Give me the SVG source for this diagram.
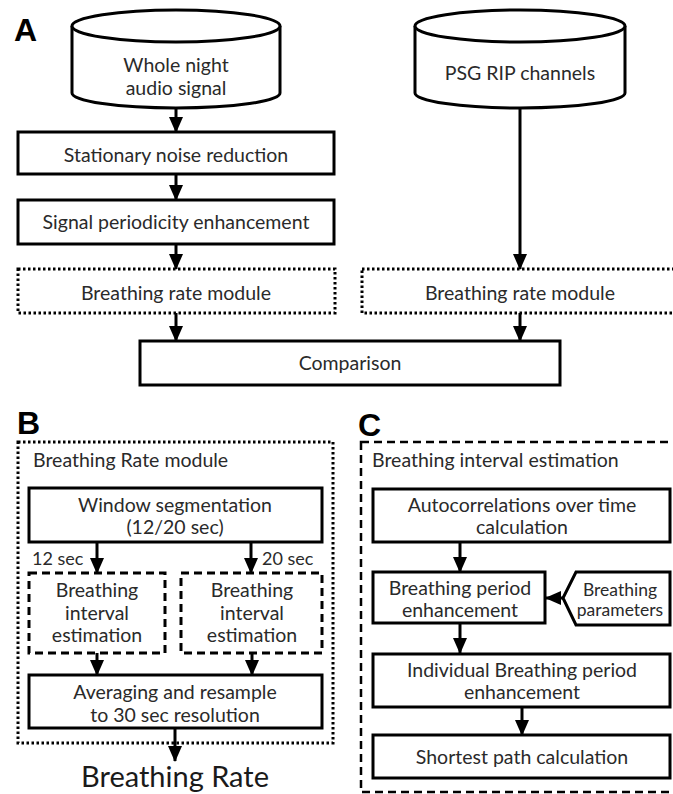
<svg xmlns="http://www.w3.org/2000/svg" width="673" height="794" viewBox="0 0 673 794">
<defs>
<style>
.t{font-family:Lato,"Liberation Sans",sans-serif;font-size:19.5px;fill:#2a2a2a;text-anchor:middle}
.ts{font-family:Lato,"Liberation Sans",sans-serif;font-size:17.5px;fill:#2a2a2a;text-anchor:middle}
.tl{font-family:Lato,"Liberation Sans",sans-serif;font-size:19.5px;fill:#2a2a2a;text-anchor:start}
.tsec{font-family:Lato,"Liberation Sans",sans-serif;font-size:18px;fill:#2a2a2a;text-anchor:start}
.big{font-family:Lato,"Liberation Sans",sans-serif;font-size:29px;fill:#1a1a1a;text-anchor:middle}
.lab{font-family:"Liberation Sans",Arial,sans-serif;font-size:32px;font-weight:bold;fill:#000}
.box{fill:#fff;stroke:#000;stroke-width:3}
.dot{fill:none;stroke:#000;stroke-width:3;stroke-dasharray:2.5 2.5}
.dash{fill:#fff;stroke:#000;stroke-width:3;stroke-dasharray:8 5}
.dashc{fill:none;stroke:#000;stroke-width:2.5;stroke-dasharray:8 5}
.ln{fill:none;stroke:#000;stroke-width:3;marker-end:url(#ah)}
</style>
<marker id="ah" markerUnits="userSpaceOnUse" markerWidth="16" markerHeight="14" viewBox="0 0 16 14" refX="15" refY="7" orient="auto">
<path d="M0,0 L16,7 L0,14 Z" fill="#000"/>
</marker>
</defs>
<rect width="673" height="794" fill="#fff"/>

<text class="lab" x="14" y="41">A</text>
<text class="lab" x="17" y="434">B</text>
<text class="lab" x="358" y="436">C</text>

<g id="connectors">
<path class="ln" d="M176,108 V132"/>
<path class="ln" d="M176,174 V200"/>
<path class="ln" d="M176,244 V269"/>
<path class="ln" d="M520,108 V269"/>
<path class="ln" d="M176,313 V341"/>
<path class="ln" d="M520,313 V341"/>
<path class="ln" d="M97,542 V573"/>
<path class="ln" d="M251,542 V573"/>
<path class="ln" d="M97,653 V675"/>
<path class="ln" d="M252,653 V675"/>
<path class="ln" d="M175,728 V761"/>
<path class="ln" d="M460,542 V572"/>
<path class="ln" d="M460,623 V653"/>
<path class="ln" d="M522,707 V735"/>
<path class="ln" d="M563,598 H546"/>
</g>

<g id="audio">
<path class="box" d="M72,26 V93 A104,15 0 0 0 280,93 V26"/>
<ellipse class="box" cx="176" cy="26" rx="104" ry="16"/>
<text class="t" x="176" y="72">Whole night</text>
<text class="t" x="176" y="95">audio signal</text>
</g>
<g id="psg">
<path class="box" d="M415,26 V93 A105,15 0 0 0 625,93 V26"/>
<ellipse class="box" cx="520" cy="26" rx="105" ry="16"/>
<text class="t" x="520" y="80">PSG RIP channels</text>
</g>
<g id="noise">
<rect class="box" x="18" y="132" width="316" height="42"/>
<text class="t" x="176" y="162">Stationary noise reduction</text>
</g>
<g id="periodicity">
<rect class="box" x="18" y="200" width="316" height="44"/>
<text class="t" x="176" y="229">Signal periodicity enhancement</text>
</g>
<g id="brm-left">
<rect class="dot" x="18" y="269" width="317" height="44"/>
<text class="t" x="176" y="300">Breathing rate module</text>
</g>
<g id="brm-right">
<rect class="dot" x="362" y="269" width="318" height="44"/>
<text class="t" x="520" y="300">Breathing rate module</text>
</g>
<g id="comparison">
<rect class="box" x="140" y="341" width="420" height="44"/>
<text class="t" x="350" y="370">Comparison</text>
</g>

<g id="module-b">
<rect class="dot" x="18" y="442" width="315" height="301"/>
<text class="tl" x="33" y="467">Breathing Rate module</text>
</g>
<g id="window">
<rect class="box" x="29" y="488" width="293" height="54"/>
<text class="t" x="175" y="512">Window segmentation</text>
<text class="t" x="175" y="534">(12/20 sec)</text>
</g>
<text class="tsec" x="32" y="565">12 sec</text>
<text class="tsec" x="262" y="565">20 sec</text>
<g id="bie-left">
<rect class="dash" x="29" y="573" width="136" height="80"/>
<text class="t" x="97" y="597">Breathing</text>
<text class="t" x="97" y="620">interval</text>
<text class="t" x="97" y="642">estimation</text>
</g>
<g id="bie-right">
<rect class="dash" x="181" y="573" width="141" height="80"/>
<text class="t" x="252" y="597">Breathing</text>
<text class="t" x="252" y="620">interval</text>
<text class="t" x="252" y="642">estimation</text>
</g>
<g id="averaging">
<rect class="box" x="29" y="675" width="293" height="53"/>
<text class="t" x="175" y="699">Averaging and resample</text>
<text class="t" x="175" y="722">to 30 sec resolution</text>
</g>
<g id="rate-out">
<text class="big" x="175" y="787">Breathing Rate</text>
</g>

<g id="module-c">
<rect class="dashc" x="361" y="442" width="330" height="350"/>
<text class="tl" x="372" y="467">Breathing interval estimation</text>
</g>
<g id="autocorr">
<rect class="box" x="373" y="489" width="297" height="53"/>
<text class="t" x="522" y="512">Autocorrelations over time</text>
<text class="t" x="522" y="534">calculation</text>
</g>
<g id="bpe">
<rect class="box" x="373" y="572" width="172" height="51"/>
<text class="t" x="460" y="595">Breathing period</text>
<text class="t" x="460" y="617">enhancement</text>
</g>
<g id="params">
<path class="box" d="M576,572 H670 V625 H576 L563,598 Z"/>
<text class="ts" x="620" y="596">Breathing</text>
<text class="ts" x="620" y="616">parameters</text>
</g>
<g id="individual">
<rect class="box" x="373" y="654" width="297" height="53"/>
<text class="t" x="522" y="677">Individual Breathing period</text>
<text class="t" x="522" y="699">enhancement</text>
</g>
<g id="shortest">
<rect class="box" x="373" y="735" width="297" height="43"/>
<text class="t" x="522" y="764">Shortest path calculation</text>
</g>
</svg>
